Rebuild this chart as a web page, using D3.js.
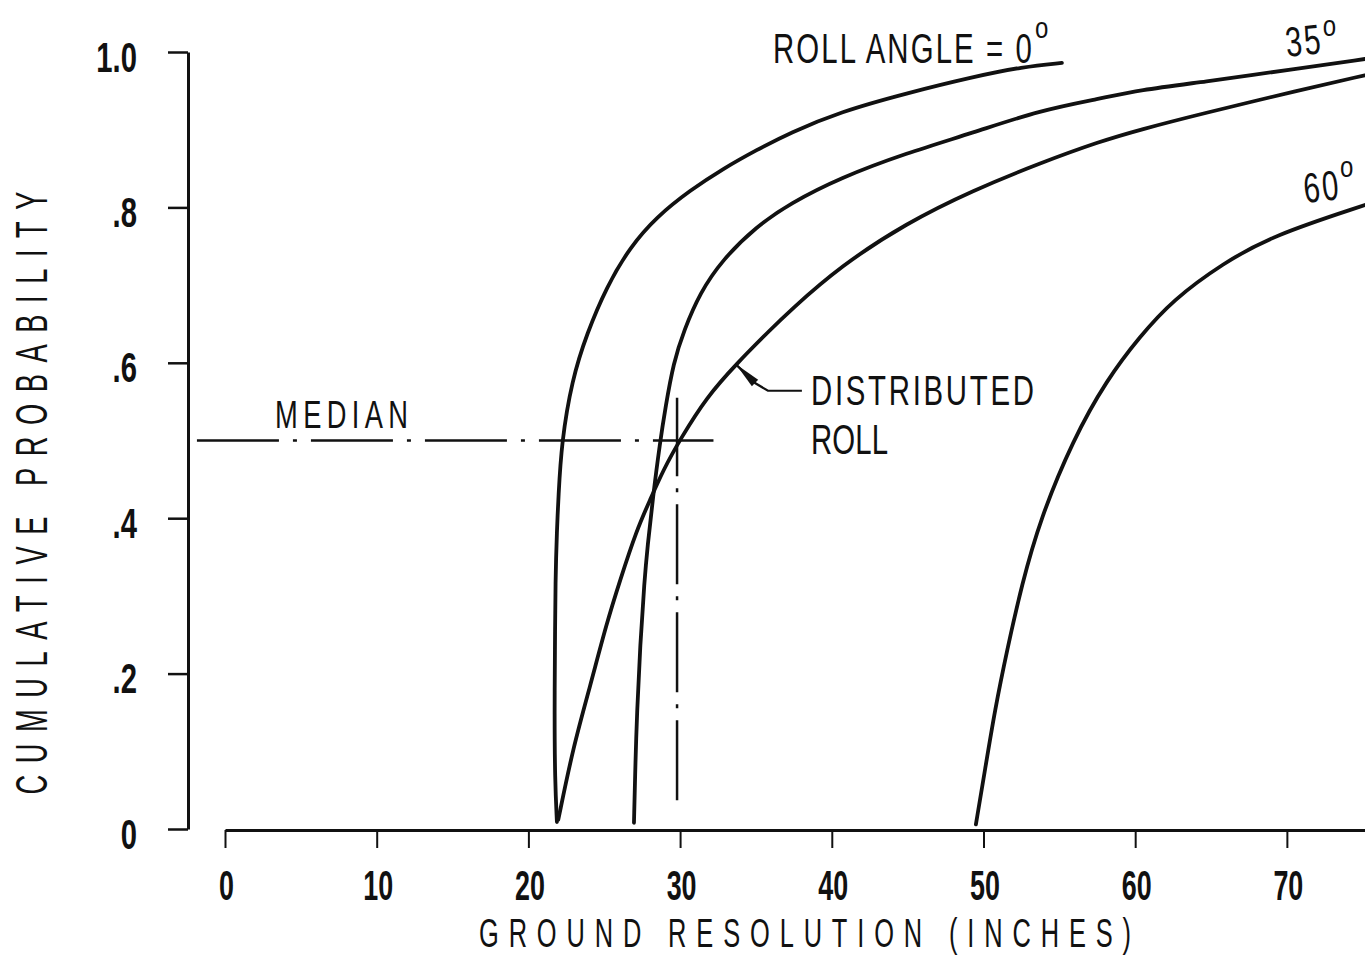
<!DOCTYPE html>
<html>
<head>
<meta charset="utf-8">
<script src="https://cdn.jsdelivr.net/npm/d3@7"></script>
<style>
  body { margin: 0; background: #fff; }
  svg { display: block; }
  text { font-family: "Liberation Sans", Arial, sans-serif; fill: #111; }
</style>
</head>
<body>
<svg id="chart"></svg>
<script>
// Data
const yTicks = [0, 0.2, 0.4, 0.6, 0.8, 1.0];
const yTickLabels = ["0", ".2", ".4", ".6", ".8", "1.0"];
const xTicks = [0, 10, 20, 30, 40, 50, 60, 70];

const roll0Res = [21.88, 21.75, 21.72, 21.75, 21.78, 21.88, 21.98, 22.18, 22.87, 23.86, 25.16, 26.7, 28.46, 30.66, 32.85, 35.05, 37.24, 40.54, 44.93, 49.31, 52.6, 55.17];
const roll0Prob = [0.009, 0.063, 0.149, 0.23, 0.32, 0.385, 0.427, 0.497, 0.578, 0.638, 0.698, 0.749, 0.788, 0.822, 0.85, 0.874, 0.896, 0.923, 0.947, 0.968, 0.981, 0.986];

const roll35Res = [26.96, 27.06, 27.16, 27.36, 27.65, 27.85, 28.21, 28.67, 29.04, 29.56, 30.26, 31.31, 32.76, 35.0, 37.24, 40.54, 44.93, 49.31, 53.72, 57.68, 60.31, 64.27, 70.86, 75.14];
const roll35Prob = [0.008, 0.089, 0.149, 0.234, 0.32, 0.363, 0.427, 0.497, 0.543, 0.6, 0.642, 0.69, 0.732, 0.775, 0.805, 0.838, 0.87, 0.896, 0.925, 0.94, 0.951, 0.961, 0.979, 0.991];

const distRes = [21.97, 22.96, 24.06, 25.16, 26.04, 27.14, 28.01, 28.89, 29.99, 31.75, 33.73, 35.92, 37.24, 40.54, 44.93, 49.31, 53.72, 57.68, 60.31, 64.27, 70.86, 75.14];
const distProb = [0.012, 0.106, 0.183, 0.265, 0.32, 0.385, 0.423, 0.462, 0.501, 0.556, 0.599, 0.642, 0.667, 0.724, 0.78, 0.822, 0.857, 0.885, 0.9, 0.92, 0.951, 0.97];

const roll60Res = [49.5, 50.1, 50.75, 51.55, 52.52, 53.72, 55.9, 58.12, 60.31, 62.49, 65.78, 69.08, 75.14];
const roll60Prob = [0.006, 0.076, 0.153, 0.23, 0.314, 0.398, 0.501, 0.578, 0.634, 0.681, 0.728, 0.764, 0.803];

const medianProb = 0.5;
const medianRes = 29.8;

// Dimensions
const width = 1365;
const height = 956;

const svg = d3.select("#chart")
  .attr("width", width)
  .attr("height", height)
  .attr("viewBox", `0 0 ${width} ${height}`);

const xScale = d3.scaleLinear().domain([0, 75.15]).range([225, 1365]);
const yScale = d3.scaleLinear().domain([0, 1]).range([829, 52]);

// Axes
const leftAxis = d3.axisLeft(yScale)
  .tickValues(yTicks)
  .tickSize(20)
  .tickSizeOuter(0)
  .tickFormat((d, i) => yTickLabels[i]);
const yAxis = svg.append("g")
    .attr("class", "axis axis-y")
    .attr("transform", "translate(188, 0)")
    .call(leftAxis);
yAxis.select(".domain").attr("stroke", "#111").attr("stroke-width", 3);
yAxis.selectAll(".tick line").attr("stroke", "#111").attr("stroke-width", 2.5);
yAxis.selectAll(".tick text")
    .attr("x", 0).attr("y", 0).attr("dy", null)
    .attr("transform", "translate(-51, 19) scale(0.68, 1)")
    .attr("text-anchor", "end")
    .attr("font-size", 43)
    .attr("font-weight", "bold")
    .attr("font-family", null)
    .attr("fill", "#111");

const bottomAxis = d3.axisBottom(xScale)
  .tickValues(xTicks)
  .tickSize(18)
  .tickSizeOuter(0);
const xAxis = svg.append("g")
    .attr("class", "axis axis-x")
    .attr("transform", "translate(0, 830)")
    .call(bottomAxis);
xAxis.select(".domain").attr("stroke", "#111").attr("stroke-width", 3);
xAxis.selectAll(".tick line").attr("stroke", "#111").attr("stroke-width", 2);
xAxis.selectAll(".tick text")
    .attr("x", 0).attr("y", 0).attr("dy", null)
    .attr("transform", "translate(1, 70) scale(0.64, 1)")
    .attr("font-size", 42)
    .attr("font-weight", "bold")
    .attr("font-family", null)
    .attr("fill", "#111");

// Curves
const line = d3.line()
  .x(d => xScale(d[0]))
  .y(d => yScale(d[1]))
  .curve(d3.curveBasis);

const series = [
  d3.zip(roll0Res, roll0Prob),
  d3.zip(roll35Res, roll35Prob),
  d3.zip(distRes, distProb),
  d3.zip(roll60Res, roll60Prob)
];

svg.append("g")
    .attr("class", "curves")
  .selectAll("path")
  .data(series)
  .join("path")
    .attr("d", line)
    .attr("fill", "none")
    .attr("stroke", "#111")
    .attr("stroke-width", 3.8)
    .attr("stroke-linecap", "round");

// Median lines
const straight = d3.line().x(d => xScale(d[0])).y(d => yScale(d[1]));
svg.append("path")
    .attr("d", straight([[-1.85, medianProb], [32.2, medianProb]]))
    .attr("fill", "none")
    .attr("stroke", "#111")
    .attr("stroke-width", 2.5)
    .attr("stroke-dasharray", "82,14,4,14");
svg.append("path")
    .attr("d", straight([[medianRes, 0.037], [medianRes, 0.555]]))
    .attr("fill", "none")
    .attr("stroke", "#111")
    .attr("stroke-width", 2.5)
    .attr("stroke-dasharray", "80,12,4,12");

// Leader arrow to distributed roll curve
const tip = [33.68, 0.598];
const leader = [[34.94, 0.574], [35.79, 0.564], [38.03, 0.564]];
svg.append("path")
    .attr("d", straight([tip, ...leader]))
    .attr("fill", "none")
    .attr("stroke", "#111")
    .attr("stroke-width", 2.2);
const tx = xScale(tip[0]), ty = yScale(tip[1]);
const bx = xScale(leader[0][0]), by = yScale(leader[0][1]);
const len = Math.hypot(bx - tx, by - ty);
const nx = -(by - ty) / len * 4.5, ny = (bx - tx) / len * 4.5;
svg.append("path")
    .attr("d", `M${tx},${ty}L${bx + nx},${by + ny}L${bx - nx},${by - ny}Z`)
    .attr("fill", "#111");

// Labels
function label(text, x, y, opt) {
  const sx = opt.sx || 0.7;
  const t = svg.append("text")
      .attr("transform", `translate(${x},${y}) rotate(${opt.rotate || 0}) scale(${sx},1)`)
      .attr("font-size", opt.size)
      .attr("text-anchor", opt.anchor || "start")
      .text(text);
  if (opt.width) t.attr("textLength", opt.width / sx).attr("lengthAdjust", "spacing");
  return t;
}

label("CUMULATIVE PROBABILITY", 47, 493, { size: 44, width: 603, anchor: "middle", rotate: -90, sx: 0.62 });
label("GROUND RESOLUTION (INCHES)", 805, 947, { size: 41, width: 652, anchor: "middle", sx: 0.62 });

label("ROLL ANGLE = 0", xScale(36.12), yScale(0.986), { size: 42, width: 259 });
label("o", xScale(53.39), yScale(1.018), { size: 30, sx: 0.8 });
label("35", xScale(70.0), yScale(0.9936), { size: 42, width: 35, rotate: -6 });
label("o", xScale(72.37), yScale(1.0206), { size: 30, sx: 0.8 });
label("60", xScale(71.19), yScale(0.8057), { size: 42, width: 35, rotate: -6 });
label("o", xScale(73.5), yScale(0.839), { size: 30, sx: 0.8 });

label("MEDIAN", xScale(3.3), yScale(0.516), { size: 39, width: 133 });
label("DISTRIBUTED", xScale(38.63), yScale(0.5457), { size: 42, width: 223 });
label("ROLL", xScale(38.63), yScale(0.4826), { size: 42, width: 77 });
</script>
</body>
</html>
